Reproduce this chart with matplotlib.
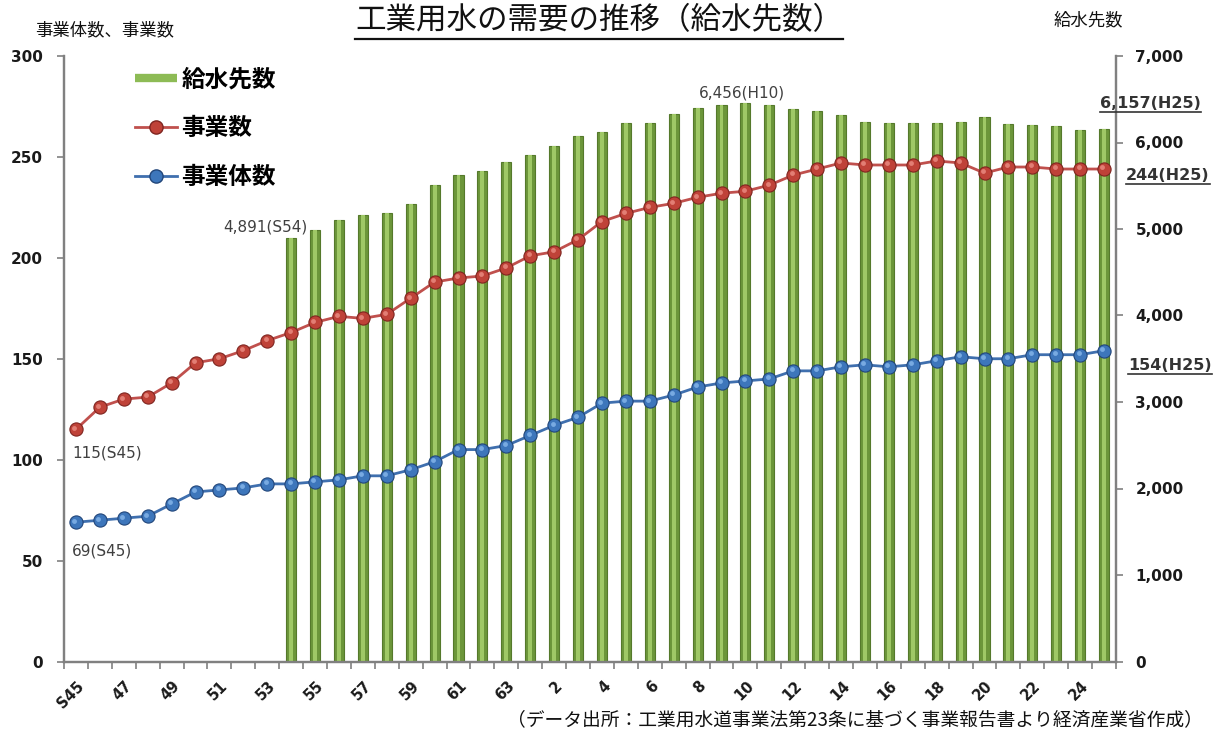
import matplotlib
matplotlib.use("Agg")
import matplotlib.pyplot as plt
from matplotlib.lines import Line2D
from matplotlib.ticker import FixedLocator, FuncFormatter, MultipleLocator
import matplotlib.transforms as mtransforms

# Fiscal years S45 (1970) .. H25 (2013)
years = [f"S{y}" for y in range(45, 64)] + [f"H{y}" for y in range(1, 26)]
# Labels shown under every second year
tick_labels = ["S45", "47", "49", "51", "53", "55", "57", "59", "61", "63",
               "2", "4", "6", "8", "10", "12", "14", "16", "18", "20", "22", "24"]

# 事業数 (left axis)
projects = [115, 126, 130, 131, 138, 148, 150, 154, 159, 163, 168, 171, 170, 172,
            180, 188, 190, 191, 195, 201, 203, 209, 218, 222, 225, 227, 230, 232,
            233, 236, 241, 244, 247, 246, 246, 246, 248, 247, 242, 245, 245, 244,
            244, 244]
# 事業体数 (left axis)
entities = [69, 70, 71, 72, 78, 84, 85, 86, 88, 88, 89, 90, 92, 92, 95, 99, 105,
            105, 107, 112, 117, 121, 128, 129, 129, 132, 136, 138, 139, 140, 144,
            144, 146, 147, 146, 147, 149, 151, 150, 150, 152, 152, 152, 154]
# 給水先数 (right axis), recorded from S54 onward
recipients_first_year = "S54"
recipients = [4891, 4990, 5100, 5160, 5190, 5290, 5510, 5620, 5670, 5780, 5850,
              5960, 6070, 6120, 6220, 6230, 6330, 6400, 6430, 6456, 6430, 6390,
              6360, 6320, 6240, 6230, 6220, 6230, 6240, 6290, 6210, 6200, 6190,
              6140, 6157]

CJK = ["Noto Sans CJK JP", "DejaVu Sans"]
GRAY = "#808080"
TXT = "#404040"

fig = plt.figure(figsize=(12.2, 7.35), dpi=100)
W, H = 1220, 735
ax = fig.add_axes([64 / W, 1 - 661.5 / H, (1116 - 64) / W, (661.5 - 56) / H])
ax2 = ax.twinx()

x = list(range(len(years)))
bar_start = years.index(recipients_first_year)
xb = list(range(bar_start, bar_start + len(recipients)))

# Cylinder-like bars: dark body with a lighter centre stripe
ax2.bar(xb, recipients, width=0.42, color="#6c963a", edgecolor="#55792b",
        linewidth=0.8, zorder=2)
ax2.bar(xb, recipients, width=0.16, color="#9fc866", linewidth=0, zorder=3)

# Glossy spheres: base marker plus a small offset highlight
hl = mtransforms.ScaledTranslation(-1.6 / 100, 1.6 / 100, fig.dpi_scale_trans)
series = [(projects, "#c0504d", "#bf4238", "#7f2520", "#e6857b"),
          (entities, "#3f6fae", "#3d76bb", "#22467a", "#7fb0e6")]
for vals, lc, fc, ec, hc in series:
    ax.plot(x, vals, color=lc, lw=2.0, marker="o", ms=9.5,
            mfc=fc, mec=ec, mew=0.8, zorder=5)
    ax.plot(x, vals, ls="none", marker="o", ms=3.5, mfc=hc, mec="none",
            alpha=0.9, zorder=6, transform=ax.transData + hl)

ax.set_zorder(ax2.get_zorder() + 1)
ax.patch.set_visible(False)

ax.set_xlim(-0.5, len(years) - 0.5)
ax.set_ylim(0, 300)
ax2.set_ylim(0, 7000)

for a in (ax, ax2):
    a.spines["top"].set_visible(False)
    for s in ("left", "right", "bottom"):
        a.spines[s].set_color(GRAY)
        a.spines[s].set_linewidth(1.6)

ax.yaxis.set_major_locator(MultipleLocator(50))
ax2.yaxis.set_major_locator(MultipleLocator(1000))
ax2.yaxis.set_major_formatter(FuncFormatter(lambda v, p: f"{int(v):,}"))
ax.tick_params(axis="y", direction="out", length=5, width=1.2, color=GRAY,
               pad=10, labelsize=11)
ax2.tick_params(axis="y", direction="out", length=5, width=1.2, color=GRAY,
                pad=9, labelsize=11)
for lab in ax.get_yticklabels() + ax2.get_yticklabels():
    lab.set_fontweight("bold")
    lab.set_color("#1a1a1a")

# category boundary ticks + labels every second year
ax.xaxis.set_minor_locator(FixedLocator([i - 0.5 for i in range(len(years) + 1)]))
ax.xaxis.set_major_locator(FixedLocator(list(range(0, len(years), 2))))
ax.set_xticklabels(tick_labels)
ax.tick_params(axis="x", which="minor", direction="out", length=5, width=1.2,
               color=GRAY)
ax.tick_params(axis="x", which="major", length=0, pad=16)
shift = mtransforms.ScaledTranslation(6 / 100, 0, fig.dpi_scale_trans)
for lab in ax.get_xticklabels():
    lab.set_rotation(45)
    lab.set_ha("right")
    lab.set_va("center")
    lab.set_rotation_mode("anchor")
    lab.set_fontweight("bold")
    lab.set_fontsize(10.5)
    lab.set_color("#1a1a1a")
    lab.set_transform(lab.get_transform() + shift)

# Legend
handles = [Line2D([], [], color="#8dbb55", lw=6, solid_capstyle="butt"),
           Line2D([], [], color="#c0504d", lw=2, marker="o", ms=9.5,
                  mfc="#bf4238", mec="#7f2520"),
           Line2D([], [], color="#3f6fae", lw=2, marker="o", ms=9.5,
                  mfc="#3d76bb", mec="#22467a")]
leg = ax.legend(handles, ["給水先数", "事業数", "事業体数"], loc="upper left",
                bbox_to_anchor=(114 / W, 1 - 46 / H), bbox_transform=fig.transFigure,
                frameon=False, handlelength=1.75, handletextpad=0.2,
                labelspacing=1.05, prop={"family": CJK, "weight": "bold", "size": 17})

# Value annotations
def note(axis, xi, yv, text, dx, dy, ha, bold=False):
    return axis.annotate(text, xy=(xi, yv), xytext=(dx, dy), textcoords="offset pixels",
                         ha=ha, va="center", fontsize=11.5 if bold else 11,
                         fontweight="bold" if bold else "normal",
                         color="#333333" if bold else TXT, zorder=10)

last = len(years) - 1
h10 = years.index("H10")
notes_plain = [
    (ax2, bar_start, recipients[0], f"{recipients[0]:,}({years[bar_start]})", 16, 11, "right"),
    (ax2, h10, recipients[h10 - bar_start], f"{recipients[h10 - bar_start]:,}(H10)", -3, 10, "center"),
    (ax, 0, projects[0], f"{projects[0]}({years[0]})", -4, -24, "left"),
    (ax, 0, entities[0], f"{entities[0]}({years[0]})", -4, -29, "left"),
]
for a, xi, yv, text, dx, dy, ha in notes_plain:
    note(a, xi, yv, text, dx, dy, ha)

underlined = [
    note(ax2, last, recipients[-1], f"{recipients[-1]:,}({years[last]})", -4, 25, "left", True),
    note(ax, last, projects[-1], f"{projects[-1]}({years[last]})", 22, -6, "left", True),
    note(ax, last, entities[-1], f"{entities[-1]}({years[last]})", 24, -15, "left", True),
]

# Titles
title = fig.text(599 / W, 1 - 21 / H, "工業用水の需要の推移（給水先数）", ha="center",
                 va="center", fontsize=22, family=CJK, color="#111111")
fig.text(35 / W, 1 - 30 / H, "事業体数、事業数", ha="left", va="center",
         fontsize=12.5, family=CJK, color="#111111")
fig.text(1088 / W, 1 - 20 / H, "給水先数", ha="center", va="center",
         fontsize=12.5, family=CJK, color="#111111")
fig.text(1203 / W, 1 - 720 / H,
         "（データ出所：工業用水道事業法第23条に基づく事業報告書より経済産業省作成）",
         ha="right", va="center", fontsize=13.5, family=CJK, color="#111111")

# Underlines drawn beneath the text extents
fig.canvas.draw()
renderer = fig.canvas.get_renderer()
inv = fig.transFigure.inverted()
for t, gap, lw in [(title, 2, 1.6)] + [(u, 1, 1.2) for u in underlined]:
    bb = t.get_window_extent(renderer)
    (x0, y0), (x1, _) = inv.transform([(bb.x0, bb.y0 - gap), (bb.x1, bb.y0)])
    fig.add_artist(Line2D([x0, x1], [y0, y0], transform=fig.transFigure,
                          color=t.get_color(), lw=lw))

fig.savefig("out.png", dpi=100)
